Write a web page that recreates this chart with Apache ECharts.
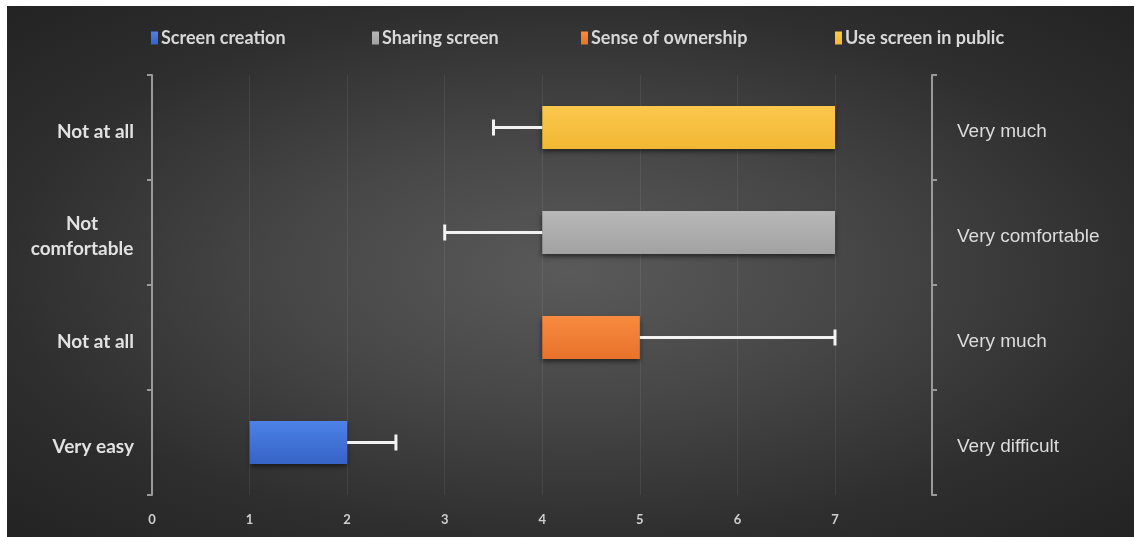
<!DOCTYPE html>
<html>
<head>
<meta charset="utf-8">
<script src="https://cdn.jsdelivr.net/npm/echarts@6/dist/echarts.min.js"></script>
<style>
  html, body { margin: 0; padding: 0; background: #ffffff; }
  #chart {
    position: absolute; left: 7px; top: 6px; width: 1127px; height: 531px;
    background: radial-gradient(ellipse at 50% 50%, #5a5a5a 0%, #474747 35%, #2e2e2e 72%, #232323 100%);
  }
</style>
</head>
<body>
<div id="chart"></div>
<script>
// ---- data (bottom to top) ----
var leftLabels  = ['Very easy', 'Not at all', 'Not\ncomfortable', 'Not at all'];
var rightLabels = ['Very difficult', 'Very much', 'Very comfortable', 'Very much'];
var seriesNames = ['Screen creation', 'Sense of ownership', 'Sharing screen', 'Use screen in public'];
var barStart = [1, 4, 4, 4];
var barEnd   = [2, 5, 7, 7];
var errFrom  = [2, 5, 4, 4];
var errTo    = [2.5, 7, 3, 3.5];
var xTicks   = [0, 1, 2, 3, 4, 5, 6, 7];
var legendOrder = ['Screen creation', 'Sharing screen', 'Sense of ownership', 'Use screen in public'];

var colors = {
  'Screen creation':      ['#4d82e6', '#3563c6'],
  'Sense of ownership':   ['#f88b3f', '#e8722a'],
  'Sharing screen':       ['#b8b8b8', '#a2a2a2'],
  'Use screen in public': ['#fbc84c', '#f2b734']
};
var solid = {
  'Screen creation': '#3f72d6', 'Sense of ownership': '#f07c33',
  'Sharing screen': '#acacac', 'Use screen in public': '#f7c03f'
};

var chart = echarts.init(document.getElementById('chart'));

var series = [{
  name: 'base', type: 'bar', stack: 'a', barWidth: '41%',
  itemStyle: { color: 'transparent' }, silent: true,
  data: barStart
}];
seriesNames.forEach(function (name, i) {
  var d = barStart.map(function (_, j) { return j === i ? barEnd[i] - barStart[i] : '-'; });
  series.push({
    name: name, type: 'bar', stack: 'a', barWidth: '41%',
    color: solid[name],
    itemStyle: {
      color: new echarts.graphic.LinearGradient(0, 0, 0, 1, [
        { offset: 0, color: colors[name][0] }, { offset: 1, color: colors[name][1] }
      ]),
      shadowColor: 'rgba(0,0,0,0.55)', shadowBlur: 5, shadowOffsetY: 3
    },
    data: d
  });
});

series.push({
  name: 'err', type: 'custom', silent: true, z: 5,
  data: errFrom.map(function (f, i) { return [i, f, errTo[i]]; }),
  encode: { y: 0, x: [1, 2] },
  renderItem: function (params, api) {
    var c = api.value(0);
    var p1 = api.coord([api.value(1), c]);
    var p2 = api.coord([api.value(2), c]);
    var h = 8;
    var st = { stroke: '#f2f2f2', lineWidth: 3 };
    return {
      type: 'group',
      children: [
        { type: 'line', shape: { x1: p1[0], y1: p1[1], x2: p2[0], y2: p2[1] }, style: st },
        { type: 'line', shape: { x1: p2[0], y1: p2[1] - h, x2: p2[0], y2: p2[1] + h }, style: st }
      ]
    };
  }
});

var legendLefts = [139, 360, 569, 823];
var legends = legendOrder.map(function (name, i) {
  return {
    data: [name], left: legendLefts[i], top: 18,
    icon: 'rect', itemWidth: 7, itemHeight: 13,
    selectedMode: false,
    textStyle: { color: '#d8d8d8', fontFamily: 'Lato', fontWeight: 'bold', fontSize: 18, padding: [0, 0, 0, -2] }
  };
});

chart.setOption({
  animation: false,
  backgroundColor: 'transparent',
  legend: legends,
  grid: { left: 145, right: 299, top: 69, bottom: 42 },
  xAxis: {
    type: 'value', min: 0, max: 7, interval: 1,
    axisLine: { show: false }, axisTick: { show: false },
    splitLine: { show: true, lineStyle: { color: 'rgba(255,255,255,0.07)', width: 1 } },
    axisLabel: {
      color: '#cfcfcf', fontFamily: 'Lato', fontWeight: 'bold', fontSize: 13, margin: 18,
      formatter: function (v) { return xTicks.indexOf(v) >= 0 ? String(v) : ''; }
    }
  },
  yAxis: [{
    type: 'category', data: leftLabels, position: 'left',
    axisLine: { show: true, lineStyle: { color: '#9a9a9a', width: 2 } },
    axisTick: { show: true, length: 5, lineStyle: { color: '#9a9a9a', width: 2 } },
    splitLine: { show: false },
    axisLabel: {
      margin: 18, color: '#e2e2e2', fontFamily: 'Lato', fontWeight: 'bold', fontSize: 19,
      padding: [8, 0, 0, 0],
      formatter: function (v) {
        if (v.indexOf('\n') < 0) { return v; }
        return v.split('\n').map(function (s) { return '{c|' + s + '}'; }).join('\n');
      },
      rich: { c: { width: 104, align: 'center', color: '#e2e2e2', fontFamily: 'Lato', fontWeight: 'bold', fontSize: 19, lineHeight: 25 } }
    }
  }, {
    type: 'category', data: rightLabels, position: 'right', offset: 97,
    axisLine: { show: true, lineStyle: { color: '#9a9a9a', width: 2 } },
    axisTick: { show: true, length: 5, lineStyle: { color: '#9a9a9a', width: 2 } },
    splitLine: { show: false },
    axisLabel: {
      margin: 25, color: '#dcdcdc', fontFamily: 'Liberation Sans', fontSize: 19,
      formatter: function (v) { return '{r|' + v + '}'; },
      rich: { r: { color: '#dcdcdc', fontFamily: 'Liberation Sans', fontSize: 19, padding: [9, 0, 0, 0] } }
    }
  }],
  series: series
});
</script>
</body>
</html>
